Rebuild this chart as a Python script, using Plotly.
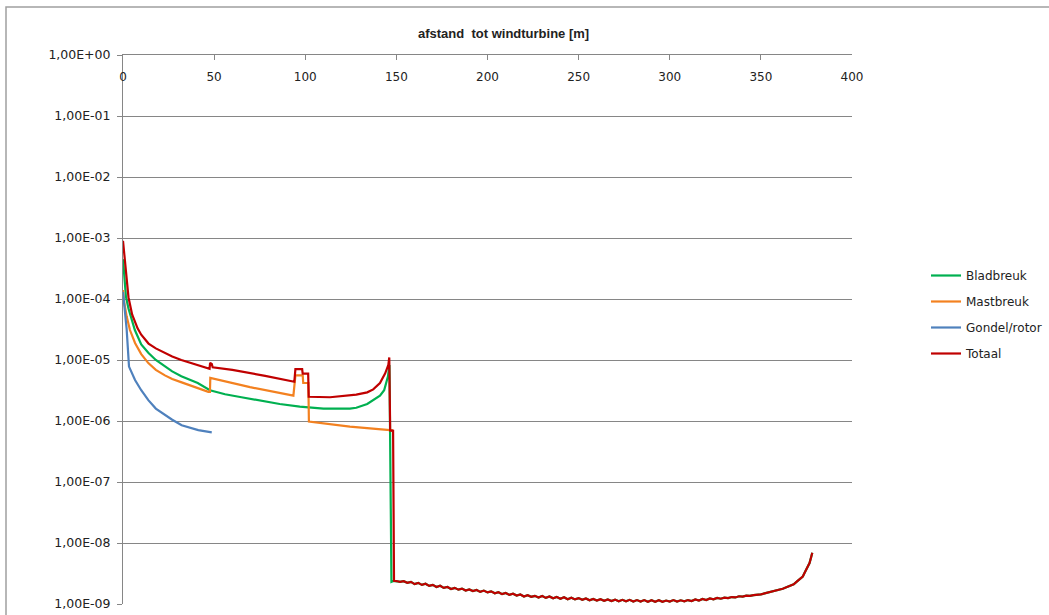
import plotly.graph_objects as go

# ---------------- data ----------------
# Bladbreuk (green)
blad_x = [0, 1, 1.6, 3, 6.5, 10, 14, 18, 23, 27, 32, 36, 41, 47.7, 56, 65, 75, 86, 97, 110,
          124.5, 128, 134, 137.3, 141, 143.3, 145.4, 146.2, 147.3]
blad_y = [4.5e-4, 2.0e-4, 1.1e-4, 7.0e-5, 3.1e-5, 1.8e-5, 1.3e-5, 1.0e-5, 7.8e-6, 6.5e-6,
          5.4e-6, 4.8e-6, 4.2e-6, 3.2e-6, 2.75e-6, 2.45e-6, 2.15e-6, 1.9e-6, 1.72e-6, 1.6e-6,
          1.6e-6, 1.65e-6, 1.9e-6, 2.2e-6, 2.6e-6, 3.2e-6, 5.4e-6, 8.3e-6, 2.3e-9]

# Mastbreuk (orange)
mast_x = [0, 0.6, 2.0, 3.8, 6.6, 10, 13.9, 18, 23, 27, 32.2, 40, 46.8, 47.7, 47.9, 69.7, 93.5,
          94.6, 98.6, 98.9, 101.7, 102.0, 124.5, 146.5, 148.2]
mast_y = [1.4e-4, 9.0e-5, 5.2e-5, 3.1e-5, 1.9e-5, 1.25e-5, 8.9e-6, 6.9e-6, 5.6e-6, 4.9e-6,
          4.3e-6, 3.5e-6, 3.0e-6, 3.0e-6, 5.1e-6, 3.6e-6, 2.6e-6,
          5.6e-6, 5.6e-6, 4.2e-6, 4.2e-6, 9.8e-7, 8.1e-7, 7.1e-7, 7.0e-7]

# Gondel/rotor (blue)
gond_x = [0, 2.0, 3.3, 6.6, 10, 13.9, 18, 23, 27, 32.2, 36, 41.3, 48.7]
gond_y = [1.3e-4, 3.2e-5, 7.8e-6, 4.7e-6, 3.2e-6, 2.2e-6, 1.6e-6, 1.26e-6, 1.05e-6, 8.5e-7,
          7.8e-7, 7.1e-7, 6.5e-7]

# Totaal (red) – first part
tot_x = [0, 0.6, 1.3, 2, 3, 5, 8, 10, 14, 18, 23, 27, 32, 36, 41, 47.5, 47.8, 48.7, 49.2, 60,
         78, 94, 94.6, 98.3, 98.6, 101.6, 101.9, 113.6, 128, 134, 137.3, 141, 143.8, 145.6,
         146.1, 146.6, 148.2]
tot_y = [9.0e-4, 6.0e-4, 3.2e-4, 2.0e-4, 1.07e-4, 5.6e-5, 3.3e-5, 2.6e-5, 1.86e-5, 1.55e-5,
         1.29e-5, 1.14e-5, 1.0e-5, 9.2e-6, 8.3e-6, 7.2e-6, 9.0e-6, 8.6e-6, 7.6e-6, 6.9e-6,
         5.5e-6, 4.4e-6, 7.1e-6, 7.1e-6, 6.0e-6, 6.0e-6, 2.5e-6, 2.45e-6, 2.7e-6, 2.95e-6,
         3.3e-6, 4.2e-6, 6.0e-6, 8.3e-6, 1.1e-5, 7.0e-7, 6.9e-7]

# Tail beyond ~148 m (Bladbreuk only, identical for Totaal), values in 1e-9
tail_x = [148.7, 150, 152, 154, 156, 158, 160, 162, 164, 166, 168, 170, 172, 174, 176, 178,
          180, 182, 184, 186, 188, 190, 192, 194, 196, 198, 200, 202, 204, 206, 208, 210,
          212, 214, 216, 218, 220, 222, 224, 226, 228, 230, 232, 234, 236, 238, 240, 242,
          244, 246, 248, 250, 252, 254, 256, 258, 260, 262, 264, 266, 268, 270, 272, 274,
          276, 278, 280, 282, 284, 286, 288, 290, 292, 294, 296, 298, 300, 302, 304, 306,
          308, 310, 312, 314, 316, 318, 320, 322, 324, 326, 328, 330, 332, 334, 336, 338,
          340, 342, 344, 346, 348, 350, 352, 354, 356, 358, 360, 362, 364, 366, 368, 370,
          372, 373, 374, 375, 376, 376.7, 377.5, 378.2]
tail_m = [2.40, 2.38, 2.30, 2.36, 2.22, 2.31, 2.12, 2.22, 2.06, 2.15, 1.98, 2.06, 1.90, 1.99,
          1.84, 1.90, 1.76, 1.84, 1.72, 1.79, 1.66, 1.73, 1.63, 1.70, 1.58, 1.66, 1.55, 1.61,
          1.50, 1.56, 1.45, 1.52, 1.41, 1.47, 1.38, 1.43, 1.33, 1.39, 1.31, 1.36, 1.28, 1.35,
          1.26, 1.33, 1.24, 1.30, 1.22, 1.29, 1.20, 1.27, 1.19, 1.25, 1.17, 1.23, 1.15, 1.21,
          1.14, 1.20, 1.13, 1.19, 1.12, 1.18, 1.11, 1.17, 1.11, 1.17, 1.10, 1.16, 1.10, 1.16,
          1.09, 1.15, 1.09, 1.15, 1.09, 1.14, 1.10, 1.16, 1.10, 1.15, 1.11, 1.16, 1.12, 1.19,
          1.14, 1.21, 1.16, 1.23, 1.19, 1.26, 1.22, 1.27, 1.25, 1.30, 1.28, 1.34, 1.32, 1.37,
          1.36, 1.40, 1.40, 1.44, 1.49, 1.54, 1.59, 1.64, 1.70, 1.78, 1.88, 1.97, 2.10, 2.37,
          2.66, 2.82, 3.24, 3.72, 4.27, 4.68, 5.75, 6.92]
tail_y = [m * 1e-9 for m in tail_m]

y_tickvals = [1e0, 1e-1, 1e-2, 1e-3, 1e-4, 1e-5, 1e-6, 1e-7, 1e-8, 1e-9]
y_ticktext = ["1,00E+00", "1,00E-01", "1,00E-02", "1,00E-03", "1,00E-04",
              "1,00E-05", "1,00E-06", "1,00E-07", "1,00E-08", "1,00E-09"]
x_tickvals = [0, 50, 100, 150, 200, 250, 300, 350, 400]

series_names = ["Bladbreuk", "Mastbreuk", "Gondel/rotor", "Totaal"]
colors = ["#00B050", "#F38120", "#4F81BD", "#C00000"]

# ---------------- figure ----------------
fig = go.Figure()
series = [
    (blad_x + tail_x, blad_y + tail_y),
    (mast_x, mast_y),
    (gond_x, gond_y),
    (tot_x + tail_x, tot_y + tail_y),
]
for i, ((xs, ys), name, col) in enumerate(zip(series, series_names, colors)):
    fig.add_trace(go.Scatter(x=xs, y=ys, mode="lines", name=name,
                             legendgroup=name,
                             line=dict(color=col, width=2.2)))

W, H = 1049, 615
L, R, T, B = 123, 197, 55, 11
pw, ph = W - L - R, H - T - B

fig.update_layout(
    width=W, height=H,
    margin=dict(l=L, r=R, t=T, b=B, autoexpand=False),
    paper_bgcolor="white", plot_bgcolor="white",
    font=dict(family="DejaVu Sans", size=12, color="#222"),
    showlegend=True,
    legend=dict(x=(926 - L) / pw, y=(604 - 261) / ph, xanchor="left", yanchor="top",
                font=dict(family="DejaVu Sans", size=12, color="#222"),
                tracegroupgap=7, itemwidth=30, bgcolor="rgba(0,0,0,0)"),
    xaxis=dict(range=[0, 400], side="top", tickvals=x_tickvals,
               ticks="inside", ticklen=5, tickcolor="#868686",
               ticklabelposition="inside", ticklabeloverflow="allow",
               ticklabelstandoff=12, showgrid=False,
               showline=True, linecolor="#868686", linewidth=1, automargin=False,
               zeroline=False, tickfont=dict(size=12, color="#222")),
    yaxis=dict(type="log", range=[-9, 0.0005], tickvals=y_tickvals, ticktext=y_ticktext,
               ticks="outside", ticklen=5, tickcolor="#868686", ticklabelstandoff=4,
               showgrid=True, gridcolor="#868686", gridwidth=1, automargin=False,
               showline=True, linecolor="#868686", linewidth=1,
               zeroline=False, tickfont=dict(size=12.5, color="#222")),
    annotations=[dict(text="<b>afstand  tot windturbine [m]</b>", xref="paper", yref="paper",
                      x=(504 - L) / pw, y=(604 - 33) / ph, xanchor="center", yanchor="middle",
                      showarrow=False,
                      font=dict(family="Liberation Sans Narrow, Liberation Sans", size=13,
                                color="#222"))],
    shapes=[dict(type="rect", xref="paper", yref="paper",
                 x0=(6 - L) / pw, x1=(W + 5 - L) / pw,
                 y0=(604 - (H + 5)) / ph, y1=(604 - 7) / ph,
                 line=dict(color="#A0A0A0", width=1.5), fillcolor="rgba(0,0,0,0)",
                 layer="below")],
)

fig.write_html("out.html", config={"displayModeBar": False},
               post_script="document.body.style.margin='0px';")
